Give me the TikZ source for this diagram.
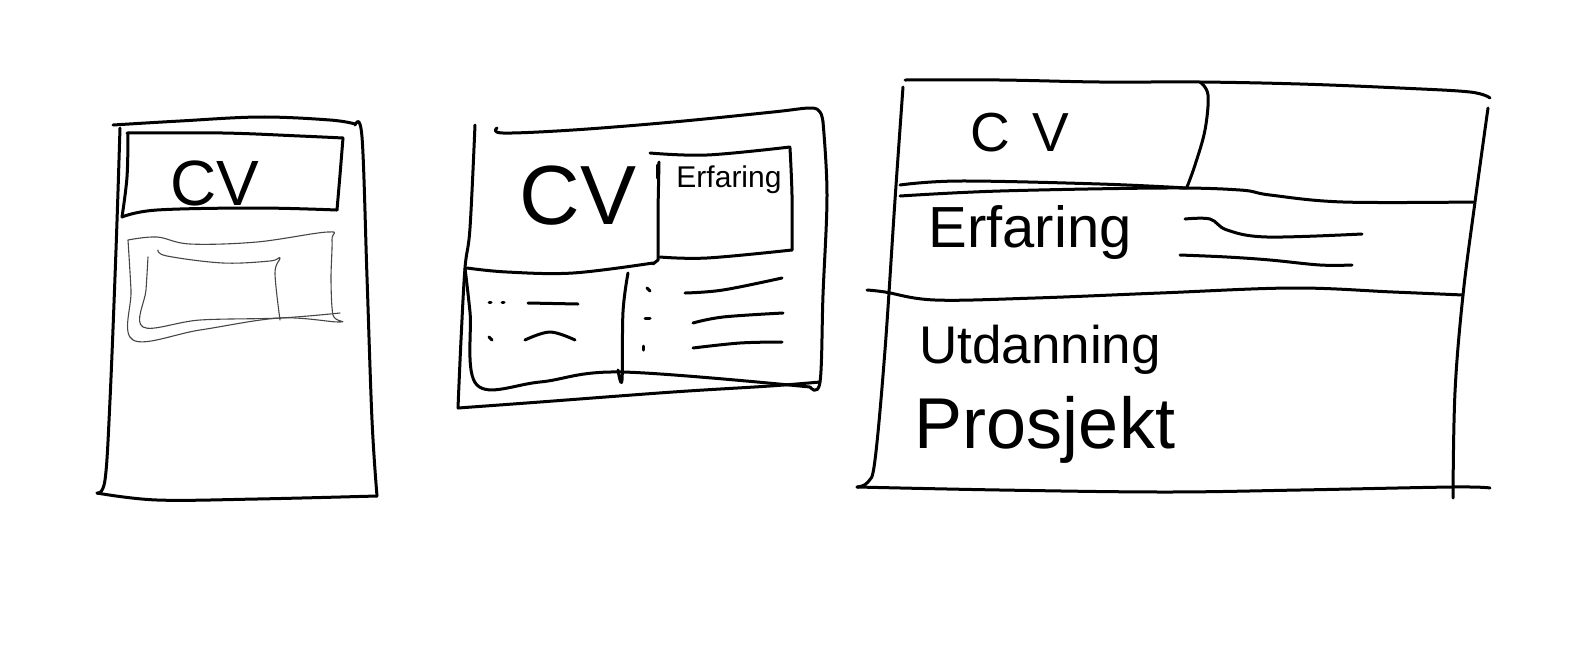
\documentclass[tikz,border=0pt]{standalone}
\usepackage{fontspec}
\setmainfont{Liberation Sans}
\usepackage{tikz}
\usetikzlibrary{positioning}
\definecolor{pencil}{RGB}{0,0,0}
\definecolor{softpencil}{RGB}{70,70,70}

\begin{document}
\begin{tikzpicture}[x=1pt, y=-1pt,
        sketch/.style={pencil, line width=3pt, line cap=round, line join=round},
        faint/.style={softpencil, line width=1.1pt, line cap=round, line join=round},
        hand/.style={inner sep=0pt, text=pencil}]
        \useasboundingbox (0,0) rectangle (1596,649);

        \draw[sketch] plot[smooth, tension=0.6] coordinates {(120,128) (116,250) (110,400) (105,480) (97,493)};
        \draw[sketch] plot[smooth, tension=0.6] coordinates {(97,493) (157,500) (257,499) (377,496)};
        \draw[sketch] plot[smooth, tension=0.6] coordinates {(355,125) (362,137) (367,277) (372,420) (377,496)};
        \draw[sketch] plot[smooth, tension=0.6] coordinates {(113,125) (180,121) (260,117) (330,120) (355,124)};
        \draw[sketch] plot[smooth, tension=0.6] coordinates {(127,133) (223,133) (300,136) (343,138)};
        \draw[sketch] (343,138) -- (340,175) -- (337,210);
        \draw[sketch] plot[smooth, tension=0.6] coordinates {(122,217) (157,210) (257,208) (337,210)};
        \draw[sketch] plot[smooth, tension=0.6] coordinates {(128,133) (127,177) (122,217)};
        \node[hand, font=\fontsize{64}{64}\selectfont] (cvA) at (215,183) {CV};
        \draw[faint] plot[smooth, tension=0.6] coordinates {(128,240) (157,237) (190,244) (257,242) (328,232) (332,240) (331,280) (333,315) (340,322) (280,318) (200,330) (133,340) (131,290) (128,240)};
        \draw[faint] plot[smooth, tension=0.6] coordinates {(158,250) (167,256) (223,263) (270,261) (280,258) (275,273) (280,320)};
        \draw[faint] plot[smooth, tension=0.6] coordinates {(148,257) (146,290) (143,327) (200,320) (280,318) (340,313)};

        \draw[sketch] plot[smooth, tension=0.6] coordinates {(497,128) (503,133) (573,130) (673,122) (773,112) (810,108) (820,112) (823,122)};
        \draw[sketch] plot[smooth, tension=0.6] coordinates {(823,122) (827,195) (823,295) (820,382) (810,387)};
        \draw[sketch] plot[smooth, tension=0.6] coordinates {(475,125) (470,228) (465,268) (461,340) (458,408)};
        \draw[sketch] plot[smooth, tension=0.6] coordinates {(458,408) (540,402) (673,392) (770,386) (820,382)};
        \draw[sketch] plot[smooth, tension=0.6] coordinates {(467,268) (507,272) (573,273) (653,263)};
        \draw[sketch] plot[smooth, tension=0.6] coordinates {(465,268) (470,312) (477,385) (540,382) (622,372) (810,387)};
        \draw[sketch] plot[smooth, tension=0.6] coordinates {(628,273) (623,312) (622,380) (618,370)};
        \draw[sketch] plot[smooth, tension=0.6] coordinates {(650,153) (707,155) (790,147)};
        \draw[sketch] plot[smooth, tension=0.6] coordinates {(790,148) (792,195) (792,250)};
        \draw[sketch] plot[smooth, tension=0.6] coordinates {(660,257) (707,258) (792,250)};
        \draw[sketch] (659,162) -- (658,210) -- (658,260) -- (653,264);
        \draw[sketch] (657,165) -- (657,178);
        \node[hand, font=\fontsize{84}{84}\selectfont] (cvB) at (578,196) {CV};
        \node[hand, font=\fontsize{30}{30}\selectfont] (erfB) at (729,180) {Erfaring};
        \draw[sketch] (489,302) -- (491,302);
        \draw[sketch] (502,302) -- (504,302);
        \draw[sketch] (528,303) -- (578,304);
        \draw[sketch] (489,337) -- (492,340);
        \draw[sketch] plot[smooth, tension=0.6] coordinates {(525,340) (550,332) (575,340)};
        \draw[sketch] (647,288) -- (650,291);
        \draw[sketch] (645,318) -- (650,318);
        \draw[sketch] (643,346) -- (643,350);
        \draw[sketch] plot[smooth, tension=0.6] coordinates {(685,293) (723,290) (782,278)};
        \draw[sketch] plot[smooth, tension=0.6] coordinates {(693,323) (723,317) (783,313)};
        \draw[sketch] plot[smooth, tension=0.6] coordinates {(693,348) (740,343) (782,342)};

        \draw[sketch] plot[smooth, tension=0.6] coordinates {(905,80) (1000,80) (1100,82) (1200,82) (1300,84) (1400,88) (1470,92) (1490,98)};
        \draw[sketch] plot[smooth, tension=0.6] coordinates {(903,87) (895,200) (885,350) (875,460) (868,482) (857,487)};
        \draw[sketch] plot[smooth, tension=0.6] coordinates {(857,487) (1000,490) (1165,492) (1300,490) (1453,487) (1490,488)};
        \draw[sketch] plot[smooth, tension=0.6] coordinates {(1488,108) (1475,202) (1463,295) (1455,392) (1453,498)};
        \draw[sketch] plot[smooth, tension=0.6] coordinates {(1200,82) (1208,95) (1205,130) (1195,165) (1187,187)};
        \draw[sketch] plot[smooth, tension=0.6] coordinates {(900,185) (960,181) (1100,184) (1187,188)};
        \draw[sketch] plot[smooth, tension=0.6] coordinates {(900,196) (1000,191) (1165,188) (1240,190) (1270,195) (1343,202) (1473,202)};
        \draw[sketch] plot[smooth, tension=0.6] coordinates {(867,290) (885,292) (935,300) (1035,298) (1160,293) (1293,288) (1393,292) (1463,295)};
        \node[hand, font=\fontsize{55}{55}\selectfont] (cvC) at (1020,133) {C\hspace{22pt}V};
        \node[hand, font=\fontsize{58}{58}\selectfont] (erfC) at (1030,232) {Erfaring};
        \draw[sketch] plot[smooth, tension=0.6] coordinates {(1185,219) (1210,219) (1227,230) (1267,237) (1362,234)};
        \draw[sketch] plot[smooth, tension=0.6] coordinates {(1180,255) (1227,257) (1270,260) (1320,265) (1352,265)};
        \node[hand, font=\fontsize{53}{53}\selectfont] (utdC) at (1040,350) {Utdanning};
        \node[hand, font=\fontsize{72}{72}\selectfont] (prosC) at (1045,430) {Prosjekt};
      \end{tikzpicture}
\end{document}
